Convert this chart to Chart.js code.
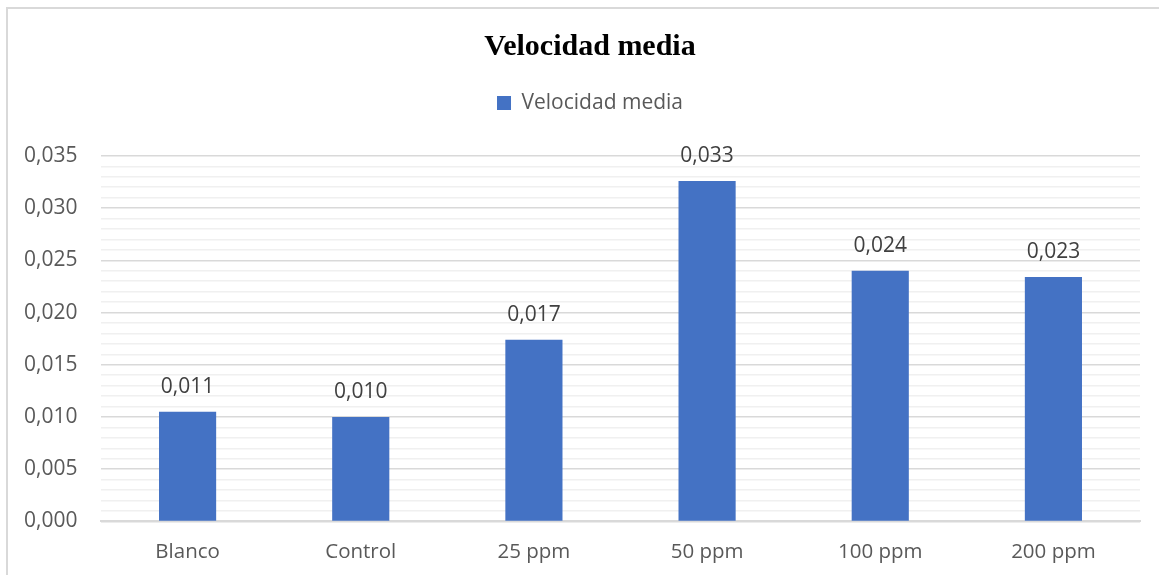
<!DOCTYPE html>
<html>
<head>
<meta charset="utf-8">
<script src="https://cdn.jsdelivr.net/npm/chart.js@4.4.0/dist/chart.umd.min.js"></script>
<style>
  html, body { margin: 0; padding: 0; background: #fff; }
  #wrap { width: 1159px; height: 575px; position: relative; }
</style>
</head>
<body>
<div id="wrap"><canvas id="myChart" width="1159" height="575"></canvas></div>
<script>
const categories = ["Blanco", "Control", "25 ppm", "50 ppm", "100 ppm", "200 ppm"];
const velocidad = [0.0105, 0.0100, 0.0174, 0.0326, 0.0240, 0.0234];
const seriesName = "Velocidad media";
const chartTitle = "Velocidad media";

const fmt = v => v.toFixed(3).replace(".", ",");

// marco gris arriba e izquierda
const frame = {
  id: "frame",
  beforeDraw(chart) {
    const c = chart.ctx;
    c.save();
    c.strokeStyle = "#d9d9d9";
    c.lineWidth = 2;
    c.beginPath();
    c.moveTo(7, 575);
    c.lineTo(7, 8);
    c.lineTo(1159, 8);
    c.stroke();
    c.restore();
  }
};

// etiquetas de valor encima de cada barra
const valueLabels = {
  id: "valueLabels",
  afterDatasetsDraw(chart) {
    const c = chart.ctx;
    const meta = chart.getDatasetMeta(0);
    c.save();
    c.font = "21px 'Open Sans'";
    c.fillStyle = "#404040";
    c.textAlign = "center";
    c.textBaseline = "middle";
    meta.data.forEach((bar, i) => {
      c.fillText(fmt(chart.data.datasets[0].data[i]), bar.x, bar.y - 25);
    });
    c.restore();
  }
};

const ctx = document.getElementById("myChart").getContext("2d");
new Chart(ctx, {
  type: "bar",
  data: {
    labels: categories,
    datasets: [{
      label: seriesName,
      data: velocidad,
      backgroundColor: "#4472c4",
      categoryPercentage: 1,
      barPercentage: 0.33
    }]
  },
  options: {
    responsive: false,
    animation: false,
    layout: { padding: { left: 40, right: 19, top: 0, bottom: -7 } },
    scales: {
      x: {
        grid: { display: false, drawTicks: false },
        border: { color: "#d9d9d9", width: 2 },
        ticks: { color: "#595959", font: { family: "'Open Sans'", size: 20.5 }, padding: 18 }
      },
      y: {
        min: 0,
        max: 0.035,
        afterFit: s => { s.width = 61; },
        border: { display: false },
        grid: {
          color: c => (Math.round(c.tick.value * 1000) % 5 === 0 ? "#d9d9d9" : "#f0f0f0"),
          lineWidth: 1.5,
          drawTicks: false
        },
        ticks: {
          stepSize: 0.001,
          autoSkip: false,
          mirror: true,
          padding: -77,
          color: "#595959",
          font: { family: "'Open Sans'", size: 21 },
          callback: v => (Math.round(v * 1000) % 5 === 0 ? fmt(v) : "")
        }
      }
    },
    plugins: {
      title: {
        display: true,
        text: chartTitle,
        color: "#000",
        font: { family: "'Liberation Serif'", size: 30, weight: "bold" },
        padding: { top: 29, bottom: 17.5 }
      },
      // espaciador entre leyenda y área del gráfico
      subtitle: {
        display: true,
        text: " ",
        weight: 500,
        font: { size: 1 },
        padding: { top: 15.6, bottom: 15.6 }
      },
      legend: {
        labels: {
          color: "#595959",
          font: { family: "'Open Sans'", size: 21 },
          boxWidth: 14,
          boxHeight: 14,
          padding: 10
        }
      },
      tooltip: { enabled: false }
    }
  },
  plugins: [frame, valueLabels]
});
</script>
</body>
</html>
